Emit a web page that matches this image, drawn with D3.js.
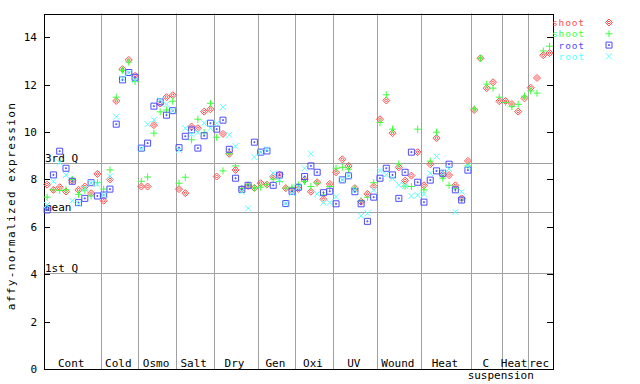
<!DOCTYPE html>
<html><head><meta charset="utf-8">
<script src="https://cdn.jsdelivr.net/npm/d3@7"></script>
<style>
body{margin:0;background:#fff}
svg{display:block}
text{font-family:"DejaVu Sans Mono",monospace;font-size:11px}
</style>
</head><body>
<svg id="c" width="640" height="384"></svg>
<script>
// ---- data ----
const groupLabels = ["Cont","Cold","Osmo","Salt","Dry","Gen","Oxi","UV","Wound","Heat","C","Heat","rec"];
const groupSub    = ["","","","","","","","","","","suspension","",""];
const groupSizes  = [9,6,6,6,7,6,6,7,7,8,5,4,4];

const shootRep1 = [
  7.78,7.56,7.67,7.49,7.95,7.56,7.70,7.42,8.23,
  7.10,8.00,11.31,12.65,13.04,12.37,
  7.70,7.70,10.29,11.20,11.47,11.55,
  7.59,7.42,10.23,10.16,10.86,10.96,
  8.12,9.92,9.08,8.40,7.60,7.72,7.64,
  7.84,7.78,8.12,8.20,7.63,7.55,
  7.60,7.98,7.48,7.88,7.16,7.81,
  8.30,8.85,8.57,7.63,7.06,7.39,7.70,
  10.54,11.33,9.95,8.51,7.95,8.16,9.15,
  7.75,8.64,9.74,8.20,8.18,7.75,7.20,8.78,
  10.93,13.11,11.85,12.10,11.30,
  11.31,11.18,10.86,11.42,
  11.87,12.28,13.24,13.33
];
const shootRep2 = [
  7.25,7.56,7.53,7.56,8.00,7.37,7.55,7.30,7.86,
  7.59,8.40,11.47,12.60,12.95,12.13,
  7.92,8.10,9.95,10.85,10.93,11.30,
  7.84,8.09,9.67,10.54,9.98,11.21,
  9.78,8.36,9.08,8.57,7.62,7.77,7.64,
  7.67,7.78,8.01,7.91,7.63,7.67,
  7.77,7.91,7.70,7.84,7.35,7.70,
  8.47,8.51,8.43,7.60,7.10,7.25,7.86,
  10.40,11.57,10.12,8.65,7.72,7.70,10.12,
  7.56,8.77,9.99,8.05,7.75,7.62,7.13,8.57,
  10.98,13.11,12.02,11.85,11.47,
  11.25,11.07,11.17,11.51,
  11.73,11.64,13.42,13.62
];
const rootRep1 = [
  6.71,8.19,9.19,8.47,7.92,7.02,7.20,7.86,7.30,
  7.34,7.59,10.33,12.20,12.51,12.31,
  9.32,9.53,11.09,11.27,10.71,10.90,
  9.34,9.82,10.09,9.32,9.84,10.37,
  10.12,10.50,9.27,8.05,7.58,7.75,9.57,
  9.15,9.20,7.75,8.18,6.98,7.50,
  7.67,8.12,8.57,8.30,7.44,7.50,
  6.97,7.98,8.15,7.48,6.97,6.23,7.25,
  8.05,8.47,8.19,7.20,8.30,9.15,7.88,
  7.04,7.97,8.36,8.26,8.64,7.56,7.13,8.39
];
const rootRep2 = [
  6.92,7.92,8.71,8.18,7.10,6.97,7.60,7.84,7.80,
  7.34,8.13,10.65,12.27,12.50,12.20,
  9.30,10.33,10.51,11.35,11.17,10.90,
  9.24,10.16,9.90,9.98,10.37,10.16,
  10.37,11.05,9.88,9.40,7.48,6.78,8.94,
  9.15,9.27,8.26,7.98,6.98,7.42,
  7.67,8.47,9.08,7.39,7.02,7.02,
  7.27,7.98,8.15,7.55,6.46,6.57,7.55,
  8.37,8.20,8.03,7.77,7.72,7.30,7.34,
  7.37,8.26,8.97,8.30,8.44,6.63,7.48,8.57
];
const seriesNames  = ["shoot","shoot","root","root"];
const seriesColors = ["#ff4d4d","#3dff3d","#4d4dff","#5cffff"];
const yTickValues  = [0,2,4,6,8,10,12,14];
const refLabels    = ["3rd Q","mean","1st Q"];
const refValues    = [8.68,6.63,4.07];
const yTitle = "affy-normalized expression";

// ---- layout ----
const svg = d3.select("#c");
const L = 44, R = 552.7, T = 13.5, B = 369;
const nCols = d3.sum(groupSizes);
const x = d3.scaleLinear().domain([0, nCols]).range([L, R]);
const y = d3.scaleLinear().domain([0, 15]).range([B, T]);
const grid = "#a0a0a0";

// group boundaries
const bounds = [];
let acc = 0;
groupSizes.forEach((n,i)=>{ bounds.push({start:acc, end:acc+n, label:groupLabels[i], sub:groupSub[i]}); acc+=n; });

// horizontal reference lines
svg.append("g").selectAll("line").data(refValues).join("line")
  .attr("x1",L).attr("x2",R).attr("y1",d=>Math.round(y(d))+0.5).attr("y2",d=>Math.round(y(d))+0.5)
  .attr("stroke",grid).attr("stroke-width",1);
svg.append("g").selectAll("text").data(refLabels).join("text")
  .attr("x",L+1).attr("y",(d,i)=>Math.round(y(refValues[i]))-1)
  .text(d=>d);

// vertical separators
svg.append("g").selectAll("line").data(bounds.slice(0,-1)).join("line")
  .attr("x1",d=>Math.round(x(d.end))+0.5).attr("x2",d=>Math.round(x(d.end))+0.5)
  .attr("y1",T).attr("y2",B).attr("stroke",grid).attr("stroke-width",1);

// group labels
svg.append("g").selectAll("text").data(bounds).join("text")
  .attr("x",d=>x((d.start+d.end)/2)-1).attr("y",367).attr("text-anchor","middle")
  .text(d=>d.label);
svg.append("g").selectAll("text").data(bounds.filter(d=>d.sub)).join("text")
  .attr("x",d=>x((d.start+d.end)/2)+14).attr("y",378.5).attr("text-anchor","middle")
  .text(d=>d.sub);

// frame
svg.append("rect").attr("x",L+0.5).attr("y",Math.round(T)+0.5)
  .attr("width",Math.round(R)-L).attr("height",B-Math.round(T))
  .attr("fill","none").attr("stroke","#000").attr("stroke-width",1);

// y ticks
const tg = svg.append("g");
tg.selectAll("line.l").data(yTickValues).join("line").attr("class","l")
  .attr("x1",L).attr("x2",L+6).attr("y1",d=>Math.round(y(d))+0.5).attr("y2",d=>Math.round(y(d))+0.5)
  .attr("stroke","#000");
tg.selectAll("line.r").data(yTickValues).join("line").attr("class","r")
  .attr("x1",Math.round(R)-6).attr("x2",Math.round(R)).attr("y1",d=>Math.round(y(d))+0.5).attr("y2",d=>Math.round(y(d))+0.5)
  .attr("stroke","#000");
tg.selectAll("text").data(yTickValues).join("text")
  .attr("x",37).attr("y",d=>y(d)+4).attr("text-anchor","end").text(d=>d);

// y title
svg.append("text").attr("transform","translate(15,206) rotate(-90)")
  .attr("text-anchor","middle").attr("letter-spacing","1.4px").text(yTitle);

// markers
const shapes = [
  "M0,-3.5L3.5,0L0,3.5L-3.5,0Z M0,-1.5L1.5,0L0,1.5L-1.5,0Z",
  "M-3.5,0H3.5M0,-3.5V3.5",
  "M-3,-3H3V3H-3Z M-0.5,-0.5H0.5V0.5H-0.5Z",
  "M-3,-3L3,3M-3,3L3,-3"
];
const allSeries = [shootRep1, shootRep2, rootRep1, rootRep2];
allSeries.forEach((vals,s)=>{
  svg.append("g").selectAll("path").data(vals.map((v,i)=>({v,i})).filter(d=>d.v!=null)).join("path")
    .attr("transform",d=>`translate(${x(d.i+0.5)},${y(d.v)})`)
    .attr("d",shapes[s]).attr("fill","none").attr("stroke",seriesColors[s]).attr("stroke-width",1);
});

// legend
const ly = [22.5,33.8,45.1,56.4];
const lg = svg.append("g");
lg.selectAll("text").data(seriesNames).join("text")
  .attr("x",585).attr("y",(d,i)=>ly[i]+3.5).attr("text-anchor","end")
  .style("font-size","9.5px").attr("letter-spacing","0.9px")
  .attr("fill",(d,i)=>seriesColors[i]).text(d=>d);
lg.selectAll("path").data(seriesNames).join("path")
  .attr("transform",(d,i)=>`translate(609,${ly[i]})`)
  .attr("d",(d,i)=>shapes[i]).attr("fill","none")
  .attr("stroke",(d,i)=>seriesColors[i]).attr("stroke-width",1);
</script>
</body></html>
